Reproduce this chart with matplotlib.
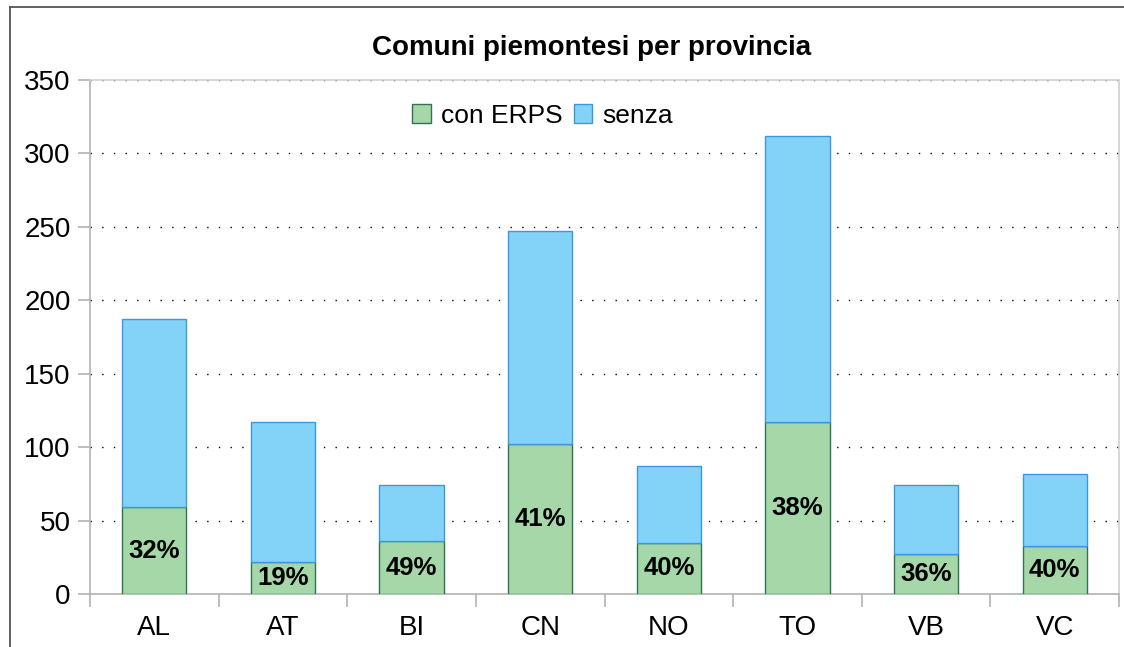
import numpy as np
import matplotlib
matplotlib.use("Agg")
import matplotlib.pyplot as plt
from matplotlib.lines import Line2D

# dati
province = ["AL", "AT", "BI", "CN", "NO", "TO", "VB", "VC"]
con_erps = [59, 22, 36, 102, 35, 117, 27, 33]
totale = [187, 117, 74, 247, 87, 312, 74, 82]
senza = [t - c for t, c in zip(totale, con_erps)]
etichette = [f"{c / t * 100:.0f}%" for c, t in zip(con_erps, totale)]

plt.rcParams['font.family'] = ['Liberation Sans', 'DejaVu Sans']

fig = plt.figure(figsize=(11.24, 6.47), dpi=100)
ax = fig.add_axes([90 / 1124, 53 / 647, 1029 / 1124, 514 / 647])

x = np.arange(len(province))
b1 = ax.bar(x, con_erps, width=0.5, color="#a6d7a8", edgecolor="#2f7352",
            linewidth=1.0, label="con ERPS", zorder=3)
b2 = ax.bar(x, senza, width=0.5, bottom=con_erps, color="#83d3f8",
            edgecolor="#3b98dc", linewidth=1.0, label="senza", zorder=3)
ax.bar_label(b1, labels=etichette, label_type="center", fontsize=18.5,
             fontweight="bold", zorder=4)

ax.set_xlim(-0.5, len(province) - 0.5)
ax.set_ylim(0, 350)
ax.set_yticks(range(0, 351, 50))
ax.set_xticks(x)
ax.set_xticklabels(province)
ax.set_xticks(np.arange(-0.5, len(province)), minor=True)

ax.tick_params(axis="both", which="major", labelsize=20, color="#b3b3b3")
ax.tick_params(axis="y", length=9, width=1.2, pad=5)
ax.tick_params(axis="x", which="major", length=0, pad=15)
ax.tick_params(axis="x", which="minor", length=9, width=1.2, color="#b3b3b3")

ax.grid(axis="y", color="black", linewidth=1.0, dashes=(1.0, 7.4), zorder=1)
for s in ["left", "bottom", "right", "top"]:
    ax.spines[s].set_color("#b3b3b3")
    ax.spines[s].set_linewidth(1.2)
ax.spines["top"].set_color("#d0d0d0")
ax.spines["right"].set_color("#d0d0d0")

ax.legend(loc="upper center", bbox_to_anchor=(0.44, 1.0), ncol=2,
          frameon=False, fontsize=19, handlelength=0.7, handleheight=0.7,
          handletextpad=0.4, columnspacing=0.4)

fig.text(592 / 1124, 1 - 48 / 647, "Comuni piemontesi per provincia",
         ha="center", va="center", fontsize=20, fontweight="bold")

# cornice esterna
fig.add_artist(Line2D([10 / 1124, 10 / 1124], [0, 1 - 7 / 647],
                      transform=fig.transFigure, color="#555555", linewidth=1.3))
fig.add_artist(Line2D([10 / 1124, 1], [1 - 7 / 647, 1 - 7 / 647],
                      transform=fig.transFigure, color="#555555", linewidth=1.3))

fig.savefig("out.png", dpi=100)
